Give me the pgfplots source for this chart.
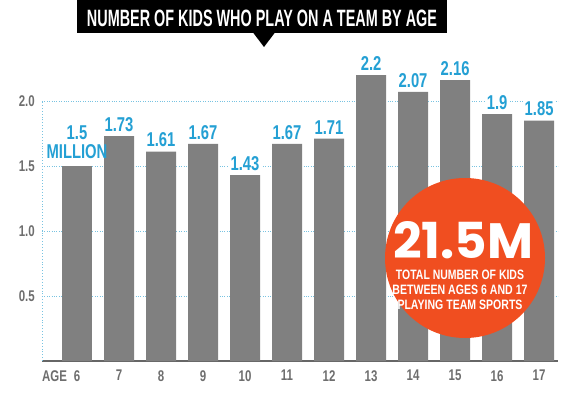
\documentclass[border=0pt]{standalone}
\usepackage{pgfplots}
\pgfplotsset{compat=1.18}
\usepackage{fontspec}
\setmainfont{Liberation Sans}
\newfontfamily\cond[FakeStretch=0.74]{Liberation Sans}
\newfontfamily\rnd{Poppins}
\definecolor{barg}{RGB}{128,128,128}
\definecolor{valblue}{RGB}{36,160,212}
\definecolor{gridblue}{RGB}{120,195,225}
\definecolor{tickg}{RGB}{110,110,110}
\definecolor{circ}{RGB}{240,78,32}
\begin{document}
\begin{tikzpicture}
\path[use as bounding box] (0,0) rectangle (570pt,392pt);
\begin{axis}[
  at={(42pt,31pt)}, anchor=south west,
  scale only axis, width=516pt, height=312pt,
  xmin=-0.833, xmax=11.45, ymin=0, ymax=2.4,
  axis lines=left, axis line style={-},
  x axis line style={draw=black!60, line width=1.5pt},
  y axis line style={draw=none},
  xtick={0,...,11},
  xticklabels={6,7,8,9,10,11,12,13,14,15,16,17},
  ytick={0.5,1,1.5,2},
  yticklabels={0.5,1.0,1.5,2.0},
  major tick length=0pt,
  ymajorgrids, grid style={dotted, draw=gridblue, line width=0.9pt},
  tick label style={font=\cond\bfseries\fontsize{15.5}{15.5}\selectfont, text=tickg, inner sep=0pt},
  xticklabel style={anchor=north, yshift=-9pt},
  yticklabel style={anchor=east, xshift=-7pt},
  /pgf/number format/assume math mode=true,
  ybar, bar width=30pt,
  clip=false,
]
\draw[dotted, draw=gridblue, line width=0.9pt] (axis cs:-0.833,0) -- (axis cs:-0.833,2);
\addplot[fill=barg, draw=none, bar shift=0pt,
  nodes near coords,
  every node near coord/.style={font=\cond\bfseries\fontsize{20}{20}\selectfont, text=valblue, anchor=south, fill=white, inner sep=1.5pt, yshift=3pt}]
  coordinates {(1,1.73) (2,1.61) (3,1.67) (4,1.43) (5,1.67) (6,1.71) (7,2.2) (8,2.07) (9,2.16) (10,1.9) (11,1.85)};
\addplot[fill=barg, draw=none, bar shift=0pt,
  nodes near coords={1.5\\MILLION},
  every node near coord/.style={font=\cond\bfseries\fontsize{20}{18.5}\selectfont, text=valblue, anchor=south, align=center, inner sep=1.5pt, yshift=6pt}]
  coordinates {(0,1.5)};
\node[anchor=north west, inner sep=0pt, yshift=-9pt, font=\cond\bfseries\fontsize{15.5}{15.5}\selectfont, text=tickg] at (axis cs:-0.833,0) {AGE};
\end{axis}
% title banner
\fill[black] (77pt,359pt) rectangle (447pt,392pt);
\fill[black] (253pt,359.5pt) -- (275pt,359.5pt) -- (264pt,345pt) -- cycle;
\node[text=white, inner sep=0pt] at (262pt,373.5pt) {\resizebox{350pt}{16.5pt}{\cond\bfseries NUMBER OF KIDS WHO PLAY ON A TEAM BY AGE}};
% circle annotation
\fill[circ] (465pt,134pt) circle (80pt);
\node[text=white, inner sep=0pt] at (463pt,151.5pt) {\resizebox{140pt}{37pt}{\rnd\bfseries 21.5M}};
\node[text=white, inner sep=0pt] at (460pt,117pt) {\resizebox{128pt}{9.5pt}{\cond\bfseries TOTAL NUMBER OF KIDS}};
\node[text=white, inner sep=0pt] at (460pt,102pt) {\resizebox{135pt}{9.5pt}{\cond\bfseries BETWEEN AGES 6 AND 17}};
\node[text=white, inner sep=0pt] at (460pt,87pt) {\resizebox{125pt}{9.5pt}{\cond\bfseries PLAYING TEAM SPORTS}};
\end{tikzpicture}
\end{document}
